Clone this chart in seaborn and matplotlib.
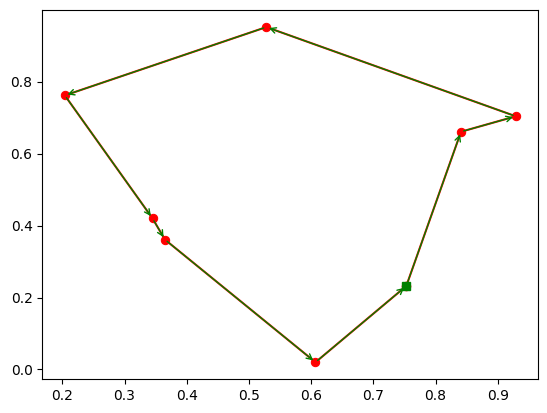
import matplotlib
matplotlib.use("Agg")
import matplotlib.pyplot as plt
import seaborn as sns

# tour order, starting (and ending) at the green square
xs = [0.753, 0.841, 0.929, 0.528, 0.204, 0.345, 0.365, 0.607]
ys = [0.232, 0.661, 0.704, 0.952, 0.762, 0.420, 0.361, 0.020]

xs_closed = xs + [xs[0]]
ys_closed = ys + [ys[0]]

fig = plt.figure(figsize=(5.47, 4.13), dpi=100)
ax = fig.add_axes([0.0773, 0.0823, 0.9068, 0.8927])

# red path with red points
sns.lineplot(x=xs_closed, y=ys_closed, sort=False, estimator=None,
             color='r', marker='o', markersize=6, markeredgecolor='r',
             linewidth=1.5, ax=ax)
# start point
ax.plot(xs[0], ys[0], 'gs', markersize=6)

# green arrows along the tour
for i in range(len(xs)):
    j = (i + 1) % len(xs)
    ax.annotate('', xy=(xs[j], ys[j]), xytext=(xs[i], ys[i]),
                arrowprops=dict(arrowstyle='->', color='g'))

ax.set_xticks([0.2, 0.3, 0.4, 0.5, 0.6, 0.7, 0.8, 0.9])
ax.set_yticks([0.0, 0.2, 0.4, 0.6, 0.8])

fig.savefig('out.png', dpi=100)
